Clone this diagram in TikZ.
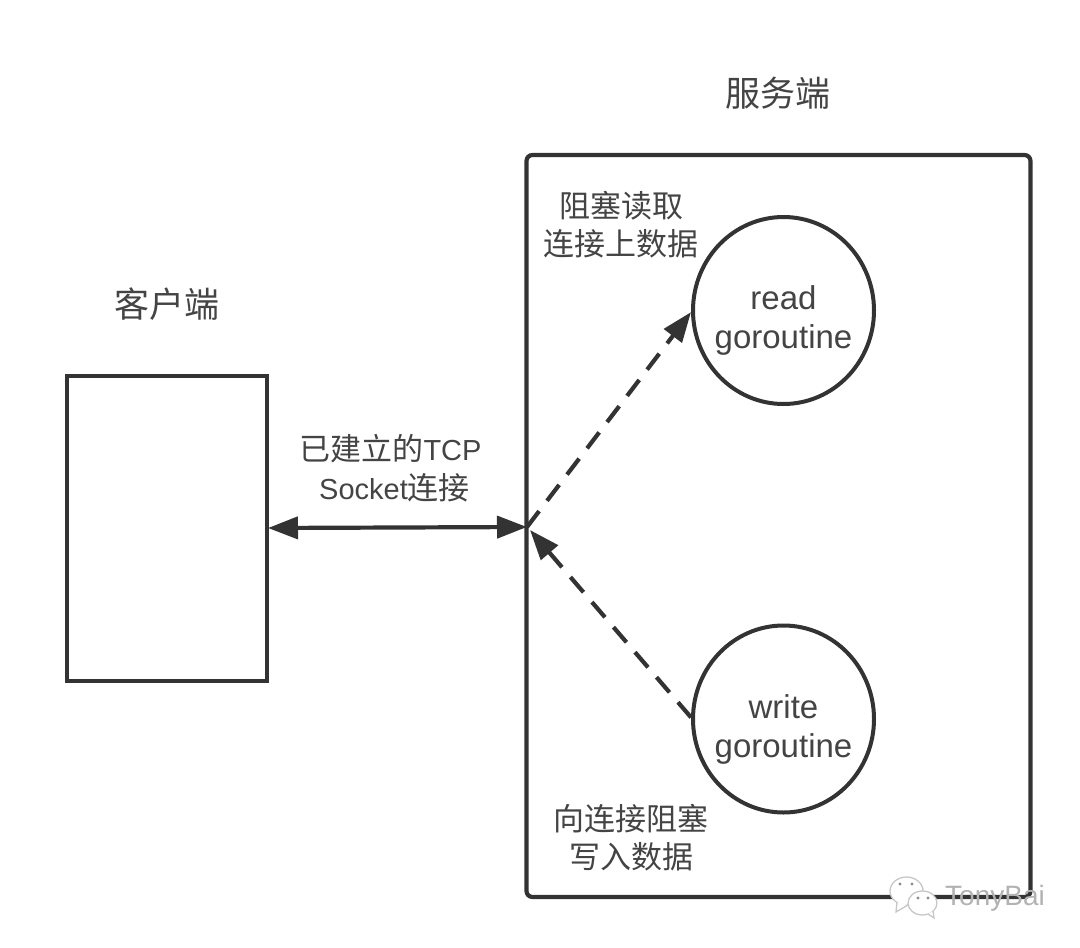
\documentclass[tikz,border=0pt]{standalone}
\usepackage{fontspec}
\setmainfont{Noto Sans CJK SC}
\setsansfont{Liberation Sans}
\definecolor{ink}{RGB}{51,51,51}
\definecolor{label}{RGB}{68,68,68}
\usetikzlibrary{arrows.meta,shapes.geometric}
\newcommand*{\lowered}{\rule{0pt}{44pt}}
\newcommand*{\gor}{\makebox[100pt]{goroutine}}
\newcommand*{\latin}[1]{{\fontsize{29}{38.5}\selectfont\sffamily #1}}
\tikzset{%
  box/.style={draw=ink, line width=4.2pt, rectangle, inner sep=0pt},% client and server frames
  worker/.style={draw=ink, line width=4pt, ellipse, minimum width=181pt, minimum height=187pt, inner sep=0pt,
    align=center, text=label, font=\fontsize{33}{39}\selectfont\sffamily},% goroutines
  note/.style={align=center, text=label, font=\fontsize{31}{38.5}\selectfont},% small captions
  side/.style={text=label, font=\fontsize{35}{40}\selectfont},% side headings
  link/.style={draw=ink, line width=4.2pt, -{Triangle[length=30pt,width=22pt]}},
  wire/.style={link, {Triangle[length=30pt,width=22pt]}-{Triangle[length=30pt,width=22pt]}},
  async/.style={link, dash pattern=on 20pt off 13pt},
  bubble/.style={draw=black!22, line width=1.3pt, fill=white}% watermark icon
}
\begin{document}
\begin{tikzpicture}[x=1pt,y=-1pt]
\useasboundingbox (0,0) rectangle (1080,948);

\node[box, minimum width=200pt, minimum height=305pt] (client) at (167,528.5) {};
\node[box, rounded corners=6pt, minimum width=504pt, minimum height=742pt] (server) at (778.5,526) {};

\node[worker] (read) at (783.5,310.5) {\lowered read\\\gor};
\node[worker] (write) at (783.5,719) {\lowered write\\\gor};

\coordinate (port) at (527,527);
\coordinate (clientport) at (268,528);
\coordinate (portb) at (530,530);

\node[side] (clienttitle) at (167,304) {客户端};
\node[side] (servertitle) at (778,93) {服务端};

\node[note] (wirelabel) at (390.5,468) {已建立的\latin{TCP}\\\hspace*{8pt}\latin{Socket}连接};
\node[note] (readlabel) at (621,224.5) {阻塞读取\\连接上数据};
\node[note] (writelabel) at (631,837.5) {向连接阻塞\\写入数据};

\draw[wire] (clientport) -- (port);
\draw[async] (port) -- (read.181);
\draw[async] (write.179) -- (portb);

% watermark
\draw[bubble] (906.5,891) ellipse (16.5pt and 14pt);
\draw[bubble] (897,902) -- (896,912) -- (908,905);
\draw[bubble] (922.5,903) ellipse (14.5pt and 12pt);
\draw[bubble] (928,914) -- (934,918) -- (933,911);
\fill[black!45] (900,884) circle (1.6pt) (912,884) circle (1.6pt) (918,898) circle (1.6pt) (928,898) circle (1.6pt);
\node[text=black!30, font=\fontsize{28}{30}\selectfont\sffamily] (mark) at (995,898) {TonyBai};

\end{tikzpicture}
\end{document}
